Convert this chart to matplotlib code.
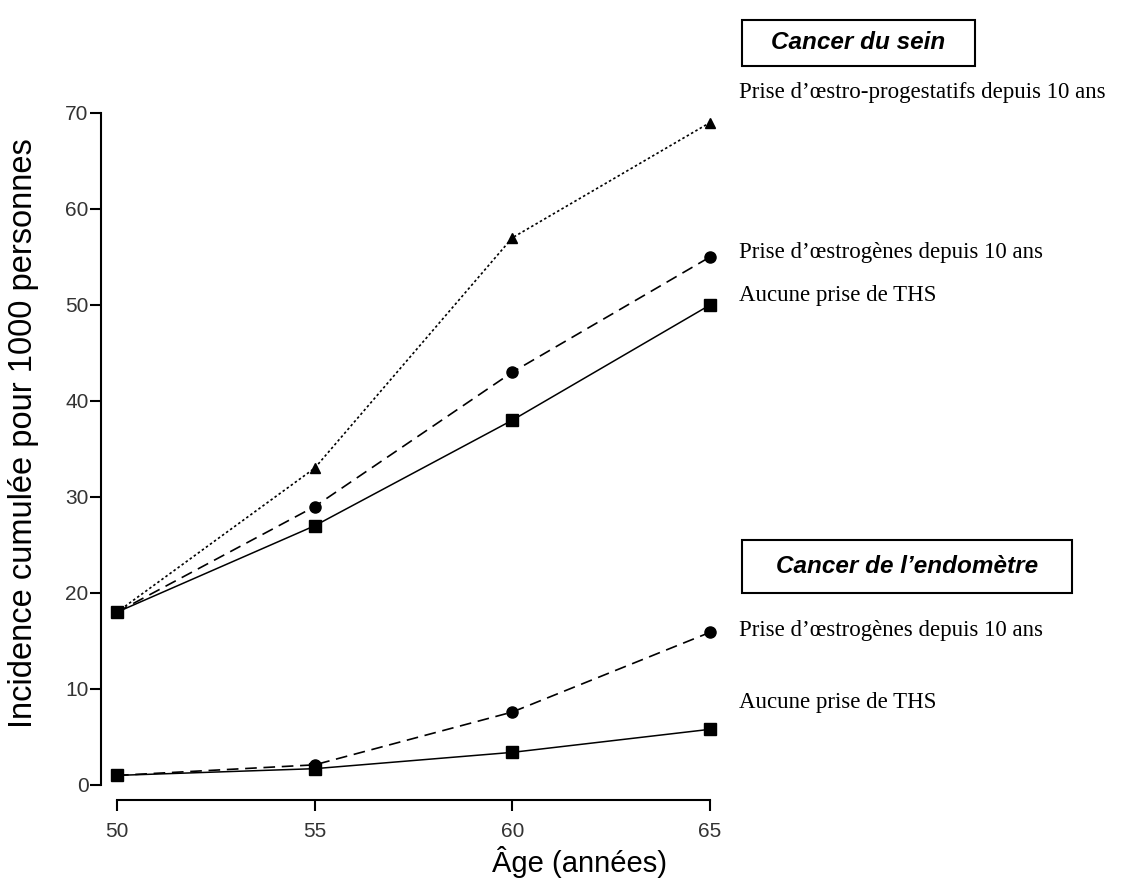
import matplotlib.pyplot as plt
from matplotlib.patches import Rectangle

ages = [50, 55, 60, 65]

# cancer du sein
sein_aucune = [18, 27, 38, 50]
sein_oestro = [18, 29, 43, 55]
sein_oestro_prog = [18, 33, 57, 69]

# cancer de l'endomètre
endo_aucune = [1, 1.7, 3.4, 5.8]
endo_oestro = [1, 2.1, 7.6, 15.9]

yticks = [0, 10, 20, 30, 40, 50, 60, 70]

fig = plt.figure(figsize=(11.27, 8.86), dpi=100)
ax = fig.add_axes([0.1038, 0.1140, 0.5262, 0.7585])

ax.plot(ages, sein_oestro_prog, linestyle=(0, (1.5, 1.5)), color="black", lw=1.2,
        marker="^", markersize=7.5, clip_on=False)
ax.plot(ages, sein_oestro, linestyle=(0, (7, 4)), color="black", lw=1.2,
        marker="o", markersize=8, clip_on=False)
ax.plot(ages, sein_aucune, "-", color="black", lw=1.1,
        marker="s", markersize=9, clip_on=False)
ax.plot(ages, endo_oestro, linestyle=(0, (7, 4)), color="black", lw=1.2,
        marker="o", markersize=8, clip_on=False)
ax.plot(ages, endo_aucune, "-", color="black", lw=1.1,
        marker="s", markersize=9, clip_on=False)

ax.set_xlim(50, 65)
ax.set_ylim(0, 70)
ax.set_xticks(ages)
ax.set_yticks(yticks)

for s in ["top", "right"]:
    ax.spines[s].set_visible(False)
ax.spines["left"].set_position(("outward", 11.5))
ax.spines["bottom"].set_position(("outward", 10.8))
ax.spines["left"].set_bounds(0, 70)
ax.spines["bottom"].set_bounds(50, 65)
ax.spines["left"].set_linewidth(1.5)
ax.spines["bottom"].set_linewidth(1.5)
ax.tick_params(direction="out", length=8, width=1.5, labelsize=15,
               labelcolor="#333333", pad=1)
ax.tick_params(axis="x", pad=8)
for lab in ax.get_xticklabels() + ax.get_yticklabels():
    lab.set_family("Liberation Sans")

fig.text(0.021, 0.511, "Incidence cumulée pour 1000 personnes", rotation=90,
         ha="center", va="center", fontsize=23.5, family="Liberation Sans")
fig.text(0.514, 0.027, "Âge (années)", ha="center", va="center",
         fontsize=21, family="Liberation Sans")

serif = dict(family="Liberation Serif", fontsize=16.5, ha="left", va="center")
fig.text(0.656, 0.896, "Prise d\u2019\u0153stro-progestatifs depuis 10 ans", **serif)
fig.text(0.656, 0.715, "Prise d\u2019\u0153strogènes depuis 10 ans", **serif)
fig.text(0.656, 0.666, "Aucune prise de THS", **serif)
fig.text(0.656, 0.288, "Prise d\u2019\u0153strogènes depuis 10 ans", **serif)
fig.text(0.656, 0.207, "Aucune prise de THS", **serif)

for x0, y0, w, h in [(0.6584, 0.9255, 0.2067, 0.0519),
                     (0.6584, 0.3307, 0.2928, 0.0598)]:
    fig.patches.append(Rectangle((x0, y0), w, h, transform=fig.transFigure,
                                 facecolor="white", edgecolor="black", lw=1.5))

fig.text(0.7618, 0.9515, "Cancer du sein", ha="center", va="center", fontsize=17.5,
         fontweight="bold", fontstyle="italic", family="Liberation Sans")
fig.text(0.8048, 0.3606, "Cancer de l\u2019endomètre", ha="center", va="center",
         fontsize=17.5, fontweight="bold", fontstyle="italic",
         family="Liberation Sans")

fig.savefig("out.png", dpi=100)
